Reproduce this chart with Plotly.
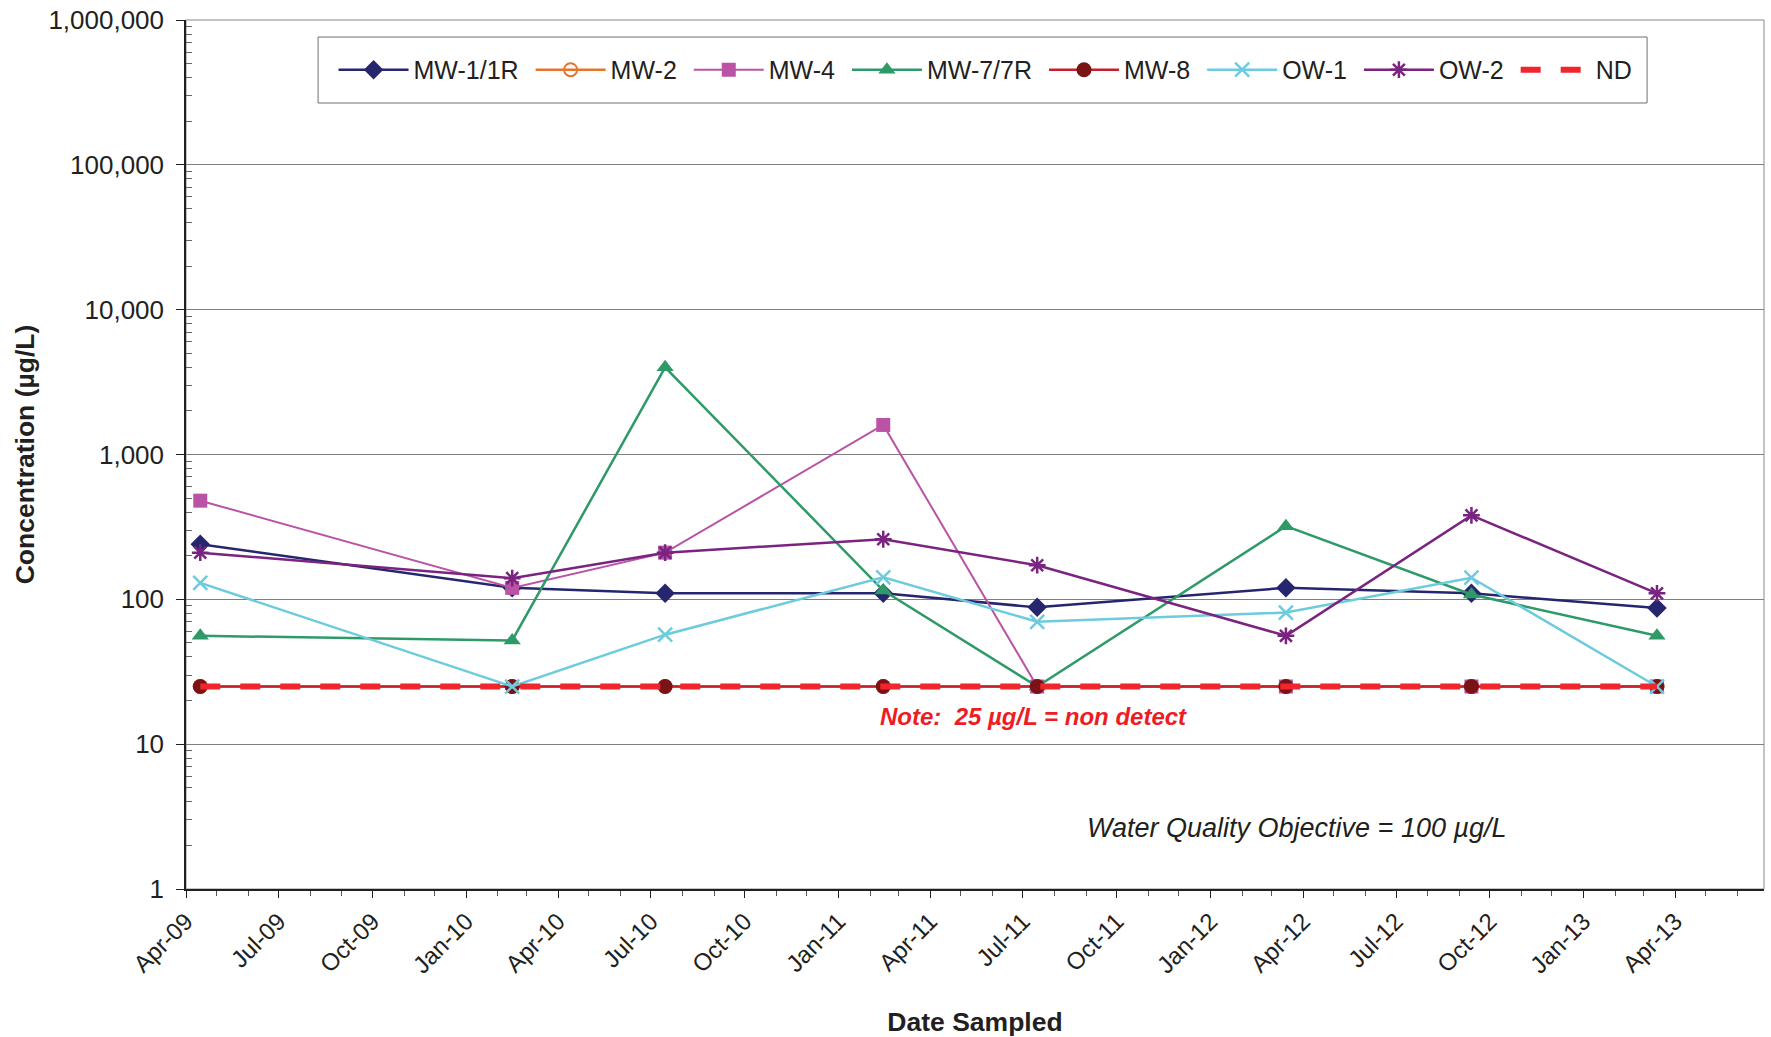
import plotly.graph_objects as go

# ---------------- data ----------------
dates = ["2009-04-15", "2010-02-15", "2010-07-15", "2011-02-14",
         "2011-07-15", "2012-03-15", "2012-09-13", "2013-03-14"]

mw1 = [240, 120, 110, 110, 88, 120, 110, 87]
mw2 = [25, 25, 25, 25, 25, 25, 25, 25]
mw4 = [480, 120, 210, 1600, 25, 25, 25, 25]
mw7 = [56, 52, 4000, 115, 25, 320, 108, 56]
mw8 = [25, 25, 25, 25, 25, 25, 25, 25]
ow1 = [130, 25, 57, 142, 70, 81, 141, 25]
ow2 = [210, 140, 210, 260, 172, 56, 380, 110]
nd_dates = [dates[0], dates[-1]]
nd = [25, 25]

y_tickvals = [1, 10, 100, 1000, 10000, 100000, 1000000]
y_ticktext = ["1", "10", "100", "1,000", "10,000", "100,000", "1,000,000"]

FONT = "Liberation Sans, Arial, sans-serif"
TXT = "#231F20"
PAD = "\u00a0"   # small spacing after legend labels

fig = go.Figure()

def add(name, x, y, color, symbol, msize, lwidth=2.5, mcolor=None, mline=None, dash=None, mode="lines+markers"):
    marker = dict(symbol=symbol, size=msize, color=mcolor or color)
    if mline:
        marker["line"] = mline
    fig.add_trace(go.Scatter(
        x=x, y=y, name=name + PAD, mode=mode,
        line=dict(color=color, width=lwidth, dash=dash),
        marker=marker,
    ))

add("MW-1/1R", dates, mw1, "#25266E", "diamond", 15)
add("MW-2", dates, mw2, "#E8742A", "circle-open", 13, mline=dict(color="#E8742A", width=2))
add("MW-4", dates, mw4, "#BA52A6", "square", 14, lwidth=2)
add("MW-7/7R", dates, mw7, "#2E9A68", "triangle-up", 15)
add("MW-8", dates, mw8, "#C7202B", "circle", 15, mcolor="#7B1316")
add("OW-1", dates, ow1, "#6CCBDD", "x-thin", 14, mline=dict(color="#6CCBDD", width=2.5))
add("OW-2", dates, ow2, "#7A2380", "asterisk", 14, mline=dict(color="#7A2380", width=2.5))
fig.add_trace(go.Scatter(
    x=nd_dates, y=nd, name="ND", mode="lines",
    line=dict(color="#F0262C", width=6, dash="20px,20px"),
))

fig.update_layout(
    width=1771, height=1037, autosize=False,
    margin=dict(l=186, r=7, t=20, b=148, autoexpand=False),
    paper_bgcolor="white", plot_bgcolor="white",
    font=dict(family=FONT, color=TXT, size=24),
    showlegend=True,
    legend=dict(
        orientation="h", x=0.0935, y=0.9425, xanchor="left", yanchor="middle",
        borderwidth=0, bgcolor="rgba(0,0,0,0)",
        font=dict(size=25, family=FONT, color=TXT),
        itemwidth=70, tracegroupgap=0,
    ),
    xaxis=dict(
        type="date", range=["2009-04-01", "2013-06-27"], automargin=False,
        tick0="2009-04-01", dtick="M3", tickformat="%b-%y",
        tickangle=-45, tickfont=dict(size=24, family=FONT, color=TXT),
        ticks="outside", ticklen=7, tickcolor="#231F20",
        minor=dict(ticks="outside", ticklen=5, dtick="M1", tickcolor="#555555", showgrid=False),
        showline=True, linecolor="#231F20", linewidth=1.5,
        showgrid=False, zeroline=False,
        title=dict(text="<b>Date Sampled</b>", font=dict(size=26.5, family=FONT, color=TXT), standoff=35),
    ),
    yaxis=dict(
        type="log", range=[0, 6], automargin=False,
        tickmode="array", tickvals=y_tickvals, ticktext=y_ticktext,
        tickfont=dict(size=26, family=FONT, color=TXT),
        ticks="outside", ticklen=8, tickcolor="#231F20",
        ticklabelstandoff=7, ticklabeloverflow="allow",
        minor=dict(ticks="inside", ticklen=6, tickcolor="#666666", showgrid=False,
                   tickvals=[m * 10 ** k for k in range(6) for m in range(2, 10)]),
        showline=True, linecolor="#231F20", linewidth=1.5,
        showgrid=True, gridcolor="#7F7F7F", gridwidth=1,
        zeroline=False,
        title=dict(text="<b>Concentration (µg/L)</b>", font=dict(size=26.5, family=FONT, color=TXT), standoff=6),
    ),
    shapes=[
        dict(type="rect", xref="paper", yref="paper", x0=0, x1=1, y0=0, y1=1,
             line=dict(color="#8A8A8A", width=1), layer="below"),
        dict(type="rect", xref="paper", yref="paper", x0=0.0837, x1=0.9259, y0=0.9045, y1=0.9804,
             line=dict(color="#6D6E71", width=1), fillcolor="white", layer="above"),
    ],
    annotations=[
        dict(text="<b><i>Note:\u00a0 25 µg/L = non detect</i></b>", xref="paper", yref="paper",
             x=0.537, y=0.198, xanchor="center", yanchor="middle", showarrow=False,
             font=dict(size=24, color="#EE1D25", family=FONT)),
        dict(text="<i>Water Quality Objective = 100 µg/L</i>", xref="paper", yref="paper",
             x=0.704, y=0.070, xanchor="center", yanchor="middle", showarrow=False,
             font=dict(size=27, color=TXT, family=FONT)),
    ],
)

fig.write_html(
    "out.html",
    config={"displayModeBar": False},
    post_script="document.body.style.margin='0';document.body.style.overflow='hidden';",
)
